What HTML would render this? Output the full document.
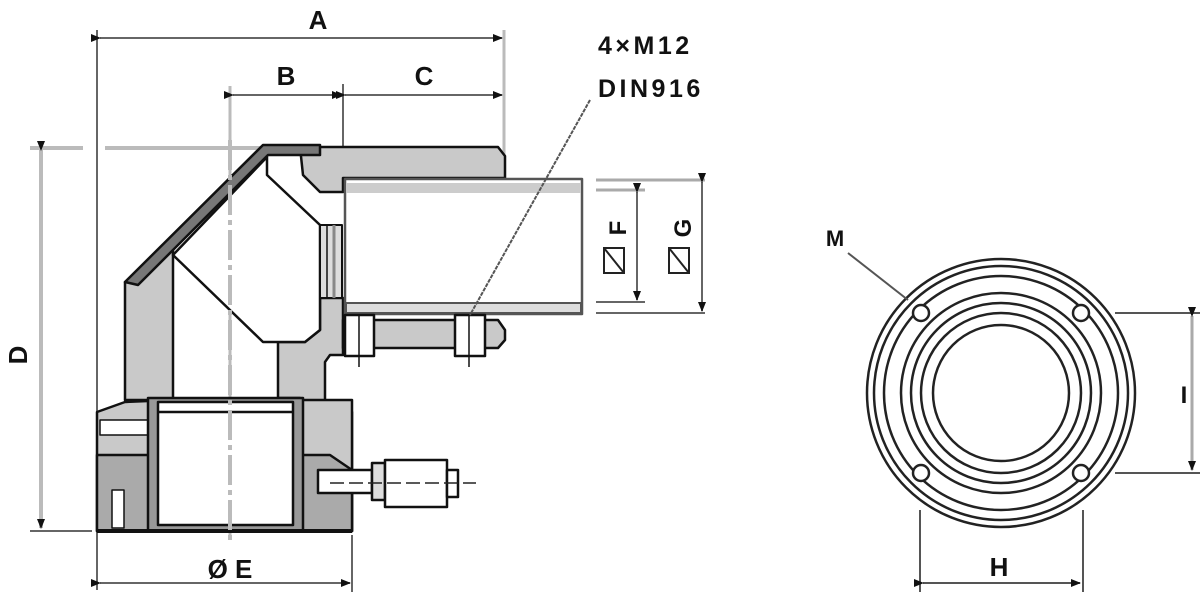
<!DOCTYPE html>
<html><head><meta charset="utf-8"><style>
html,body{margin:0;padding:0;background:#fff;}
svg{display:block;font-family:"Liberation Sans",sans-serif;font-weight:bold;}
</style></head><body>
<svg width="1200" height="594" viewBox="0 0 1200 594" xmlns="http://www.w3.org/2000/svg">
<defs>
<marker id="ar" markerWidth="10" markerHeight="8" refX="9" refY="4" orient="auto" markerUnits="userSpaceOnUse"><path d="M0,0 L10,4 L0,8 z" fill="#111"/></marker>
</defs>
<g stroke="#666" stroke-width="2" fill="none">
<line x1="97" y1="30" x2="97" y2="590"/>
<line x1="504" y1="30" x2="504" y2="160" stroke="#bbb" stroke-width="3"/>
<line x1="230" y1="86" x2="230" y2="540" stroke="#bbb" stroke-width="3"/>
<line x1="343" y1="84" x2="343" y2="175"/>
<line x1="100" y1="38" x2="502" y2="38" marker-start="url(#ar)" marker-end="url(#ar)"/>
<line x1="233" y1="95" x2="341" y2="95" marker-start="url(#ar)" marker-end="url(#ar)"/>
<line x1="345" y1="95" x2="502" y2="95" marker-start="url(#ar)" marker-end="url(#ar)"/>
<line x1="30" y1="148" x2="83" y2="148" stroke="#bbb" stroke-width="4"/>
<line x1="105" y1="148" x2="265" y2="148" stroke="#bbb" stroke-width="4"/>
<line x1="41" y1="150" x2="41" y2="528" stroke="#bbb" stroke-width="4" marker-start="url(#ar)" marker-end="url(#ar)"/>
<line x1="30" y1="531" x2="92" y2="531"/>
<line x1="352" y1="535" x2="352" y2="592"/>
<line x1="100" y1="583" x2="350" y2="583" marker-start="url(#ar)" marker-end="url(#ar)"/>
<line x1="596" y1="180" x2="705" y2="180" stroke="#aaa" stroke-width="3"/>
<line x1="596" y1="190" x2="645" y2="190" stroke="#aaa" stroke-width="3"/>
<line x1="596" y1="302" x2="645" y2="302"/>
<line x1="596" y1="313" x2="705" y2="313"/>
<line x1="637" y1="192" x2="637" y2="300" marker-start="url(#ar)" marker-end="url(#ar)"/>
<line x1="702" y1="182" x2="702" y2="311" marker-start="url(#ar)" marker-end="url(#ar)"/>
</g>
<g font-size="26" fill="#111" text-anchor="middle">
<text x="318" y="29">A</text>
<text x="286" y="85">B</text>
<text x="424" y="85">C</text>
<text x="230" y="578">Ø E</text>
<text x="999" y="576">H</text>
<text x="835" y="246" font-size="22">M</text>
<text transform="translate(27,355) rotate(-90)">D</text>
<text transform="translate(626,228) rotate(-90)" font-size="24">F</text>
<text transform="translate(691,228) rotate(-90)" font-size="24">G</text>
<text x="1184" y="403" font-size="24">I</text>
<text x="598" y="54" text-anchor="start" font-size="25" letter-spacing="3.5">4×M12</text>
<text x="598" y="97" text-anchor="start" font-size="25" letter-spacing="3.5">DIN916</text>
</g>
<g stroke="#222" stroke-width="2" fill="none">
<rect x="604" y="248" width="20" height="25"/><line x1="604" y1="248" x2="624" y2="273"/>
<rect x="669" y="248" width="20" height="25"/><line x1="669" y1="248" x2="689" y2="273"/>
</g>
<g stroke="#111" stroke-width="2.5" stroke-linejoin="round">
<path d="M300,147 L498,147 L505,156 L505,178 L343,178 L343,192 L320,192 L303,175 Z" fill="#c9c9c9"/>
<path d="M125,282 L173,250 L173,400 L125,400 Z" fill="#c9c9c9"/>
<path d="M278,342 L305,342 L320,330 L320,298 L343,298 L343,355 L330,355 L325,362 L325,405 L352,412 L352,531 L300,531 L300,398 L278,398 Z" fill="#c9c9c9"/>
<path d="M267,157 L267,175 L320,225 L320,330 L305,342 L263,342 L173,255 Z" fill="#fff"/>
<path d="M125,282 L263,145 L320,145 L320,155 L268,155 L138,285 Z" fill="#777"/>
<rect x="320" y="225" width="22" height="73" fill="#ddd" stroke-width="2"/>
<line x1="327" y1="225" x2="327" y2="298" stroke-width="1.5"/>
<line x1="334" y1="225" x2="334" y2="298" stroke="#888" stroke-width="3"/>
<rect x="345" y="179" width="237" height="135" fill="#fff" stroke="#555"/>
<rect x="346" y="183" width="235" height="10" fill="#ccc" stroke="none"/>
<rect x="346" y="303" width="235" height="10" fill="#ddd" stroke="#555" stroke-width="2"/>
<path d="M343,320 L498,320 L505,330 L505,340 L498,348 L343,348 Z" fill="#c9c9c9"/>
<rect x="345" y="315" width="29" height="41" fill="#fff"/>
<rect x="455" y="315" width="30" height="41" fill="#fff"/>
<line x1="359" y1="315" x2="359" y2="367" stroke-width="1.5"/>
<line x1="469" y1="315" x2="469" y2="367" stroke-width="1.5"/>
<path d="M97,412 L125,402 L173,400 L352,400 L352,531 L97,531 Z" fill="#c9c9c9"/>
<path d="M97,455 L155,455 L155,531 L97,531 Z" fill="#aaa"/>
<path d="M300,455 L330,455 L352,470 L352,531 L300,531 Z" fill="#aaa"/>
<rect x="100" y="420" width="50" height="15" fill="#fff" stroke-width="1.5"/>
<rect x="112" y="490" width="12" height="38" fill="#fff" stroke-width="1.5"/>
<rect x="148" y="398" width="155" height="133" fill="#999"/>
<rect x="158" y="402" width="135" height="123" fill="#fff"/>
<line x1="158" y1="412" x2="293" y2="412"/>
<line x1="97" y1="531" x2="352" y2="531" stroke-width="4"/>
<rect x="318" y="470" width="54" height="23" fill="#fff"/>
<rect x="372" y="463" width="13" height="37" fill="#ddd"/>
<rect x="385" y="460" width="62" height="47" fill="#fff"/>
<rect x="447" y="470" width="11" height="27" fill="#fff"/>
</g>
<line x1="590" y1="100" x2="470" y2="315" stroke="#555" stroke-width="2" stroke-dasharray="4,1"/>
<line x1="230" y1="140" x2="230" y2="540" stroke="#bbb" stroke-width="4" stroke-dasharray="30,5,5,5"/>
<line x1="330" y1="483" x2="476" y2="483" stroke="#222" stroke-width="1.5" stroke-dasharray="14,5"/>
<g stroke="#222" stroke-width="2.5" fill="none">
<circle cx="1001" cy="393" r="134"/>
<circle cx="1001" cy="393" r="127"/>
<circle cx="1001" cy="393" r="117"/>
<circle cx="1001" cy="393" r="100"/>
<circle cx="1001" cy="393" r="90"/>
<circle cx="1001" cy="393" r="80"/>
<circle cx="1001" cy="393" r="68"/>
<circle cx="921" cy="313" r="8" fill="#fff"/>
<circle cx="1081" cy="313" r="8" fill="#fff"/>
<circle cx="921" cy="473" r="8" fill="#fff"/>
<circle cx="1081" cy="473" r="8" fill="#fff"/>
</g>
<g stroke="#555" stroke-width="2" fill="none">
<line x1="848" y1="253" x2="908" y2="300"/>
<line x1="1115" y1="313" x2="1200" y2="313"/>
<line x1="1115" y1="473" x2="1200" y2="473"/>
<line x1="1192" y1="316" x2="1192" y2="470" stroke="#aaa" stroke-width="3" marker-start="url(#ar)" marker-end="url(#ar)"/>
<line x1="920" y1="510" x2="920" y2="592"/>
<line x1="1083" y1="510" x2="1083" y2="592"/>
<line x1="923" y1="583" x2="1080" y2="583" marker-start="url(#ar)" marker-end="url(#ar)"/>
</g>
</svg>
</body></html>
